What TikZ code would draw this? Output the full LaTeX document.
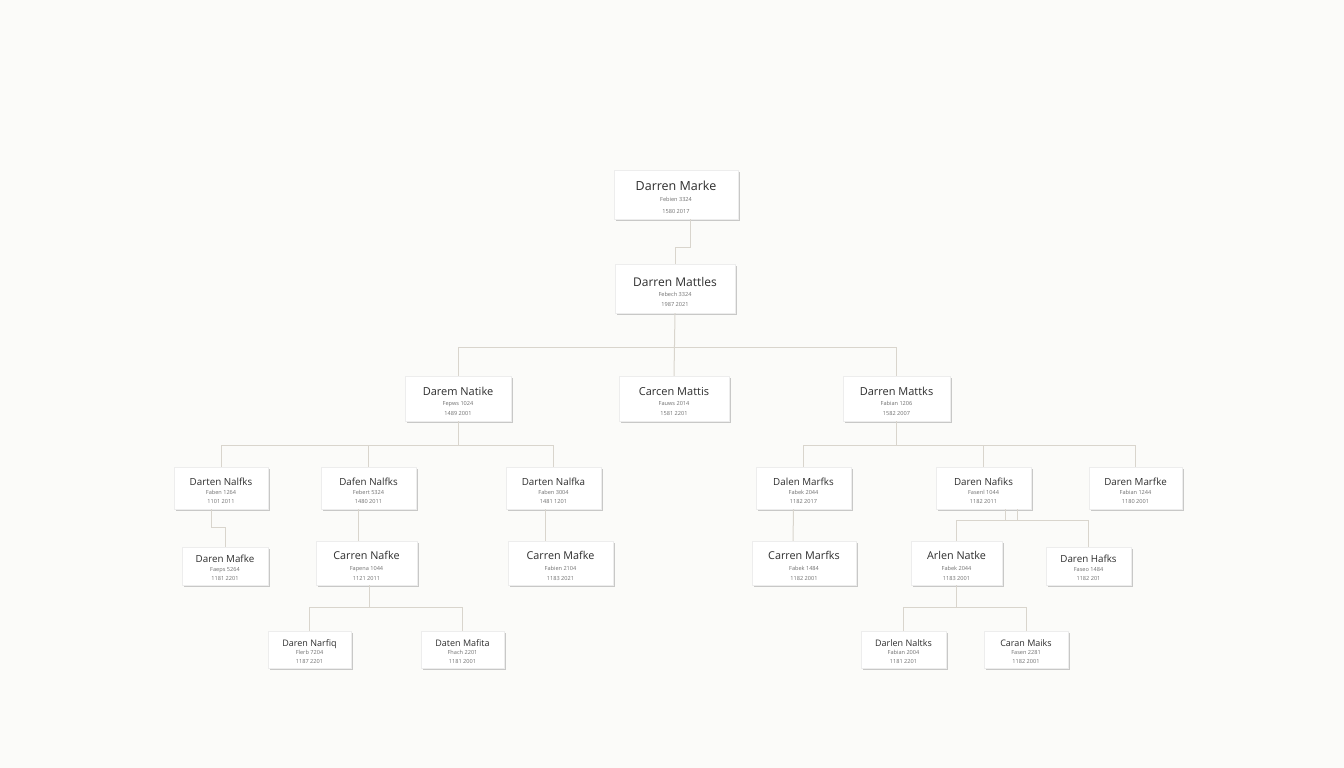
\documentclass[tikz,border=0pt]{standalone}
\usepackage{fontspec}
\setmainfont{Open Sans}
\usetikzlibrary{shadows}
\definecolor{bgc}{HTML}{FBFBF9}
\definecolor{linec}{HTML}{D9D5CD}
\definecolor{namec}{HTML}{2E2E2E}
\definecolor{subc}{HTML}{707070}
\newcommand\cardtxt[6]{{\fontsize{#1}{#1}\selectfont\color{namec}#4}\\[#2]{\fontsize{5.6}{5.6}\selectfont\color{subc}#5}\\[#3]{\fontsize{5.6}{5.6}\selectfont\color{subc}#6}}
\tikzset{
  card/.style={draw=black!7, fill=white, inner sep=0pt,
    drop shadow={shadow xshift=1.6pt, shadow yshift=-1.8pt, opacity=0.2, fill=black}},
  txt/.style={inner sep=0pt, align=center},
  conn/.style={draw=linec, line width=1pt}
}
\begin{document}
\begin{tikzpicture}[x=1pt,y=-1pt]
\useasboundingbox (0,0) rectangle (1344,768);
\fill[bgc] (0,0) rectangle (1344,768);

% level 1-2
\node[card, minimum width=124, minimum height=49] (root) at (676,194.5) {};
\node[txt] (root-t) at ([yshift=-3pt]root.center) {\cardtxt{12.5}{-1pt}{0pt}{Darren Marke}{Febien 3324}{1580 2017}};
\node[card, minimum width=120, minimum height=49] (n2) at (675,288.5) {};
\node[txt] (n2-t) at ([yshift=-3pt]n2.center) {\cardtxt{12}{-2pt}{-2pt}{Darren Mattles}{Febech 3324}{1987 2021}};

% level 3
\node[card, minimum width=106, minimum height=45] (l3a) at (458,398.5) {};
\node[txt] (l3a-t) at ([yshift=-3pt]l3a.center) {\cardtxt{11}{-2.5pt}{-2pt}{Darem Natike}{Fepws 1024}{1489 2001}};
\node[card, minimum width=110, minimum height=45] (l3b) at (674,398.5) {};
\node[txt] (l3b-t) at ([yshift=-3pt]l3b.center) {\cardtxt{11}{-2.5pt}{-2pt}{Carcen Mattis}{Fauws 2014}{1581 2201}};
\node[card, minimum width=107, minimum height=45] (l3c) at (896.5,398.5) {};
\node[txt] (l3c-t) at ([yshift=-3pt]l3c.center) {\cardtxt{11}{-2.5pt}{-2pt}{Darren Mattks}{Fabian 1206}{1582 2007}};

% level 4
\node[card, minimum width=94, minimum height=42] (l4a) at (221,488) {};
\node[txt] (l4a-t) at ([yshift=-3pt]l4a.center) {\cardtxt{9.8}{-3pt}{-3pt}{Darten Nalfks}{Faben 1264}{1101 2011}};
\node[card, minimum width=95, minimum height=42] (l4b) at (368.5,488) {};
\node[txt] (l4b-t) at ([yshift=-3pt]l4b.center) {\cardtxt{9.8}{-3pt}{-3pt}{Dafen Nalfks}{Febert 5324}{1480 2011}};
\node[card, minimum width=95, minimum height=42] (l4c) at (553.5,488) {};
\node[txt] (l4c-t) at ([yshift=-3pt]l4c.center) {\cardtxt{9.8}{-3pt}{-3pt}{Darten Nalfka}{Faben 3004}{1481 1201}};
\node[card, minimum width=95, minimum height=42] (l4d) at (803.5,488) {};
\node[txt] (l4d-t) at ([yshift=-3pt]l4d.center) {\cardtxt{9.8}{-3pt}{-3pt}{Dalen Marfks}{Fabek 2044}{1182 2017}};
\node[card, minimum width=95, minimum height=42] (l4e) at (983.5,488) {};
\node[txt] (l4e-t) at ([yshift=-3pt]l4e.center) {\cardtxt{9.8}{-3pt}{-3pt}{Daren Nafiks}{Fasenl 1044}{1182 2011}};
\node[card, minimum width=93, minimum height=42] (l4f) at (1135.5,488) {};
\node[txt] (l4f-t) at ([yshift=-3pt]l4f.center) {\cardtxt{9.8}{-3pt}{-3pt}{Daren Marfke}{Fabian 1244}{1180 2001}};

% level 5
\node[card, minimum width=86, minimum height=38] (l5a) at (225,566) {};
\node[txt] (l5a-t) at ([yshift=-2pt]l5a.center) {\cardtxt{9.8}{-3pt}{-3pt}{Daren Mafke}{Faeps 5264}{1181 2201}};
\node[card, minimum width=101, minimum height=44] (l5b) at (366.5,563) {};
\node[txt] (l5b-t) at ([yshift=-3pt]l5b.center) {\cardtxt{10.8}{-1.5pt}{-2pt}{Carren Nafke}{Fapena 1044}{1121 2011}};
\node[card, minimum width=105, minimum height=44] (l5c) at (560.5,563) {};
\node[txt] (l5c-t) at ([yshift=-3pt]l5c.center) {\cardtxt{10.8}{-1.5pt}{-2pt}{Carren Mafke}{Fabien 2104}{1183 2021}};
\node[card, minimum width=104, minimum height=44] (l5d) at (804,563) {};
\node[txt] (l5d-t) at ([yshift=-3pt]l5d.center) {\cardtxt{10.8}{-1.5pt}{-2pt}{Carren Marfks}{Fabek 1484}{1182 2001}};
\node[card, minimum width=91, minimum height=44] (l5e1) at (956.5,563) {};
\node[txt] (l5e1-t) at ([yshift=-3pt]l5e1.center) {\cardtxt{10.8}{-1.5pt}{-2pt}{Arlen Natke}{Fabek 2044}{1183 2001}};
\node[card, minimum width=85, minimum height=38] (l5e2) at (1088.5,566) {};
\node[txt] (l5e2-t) at ([yshift=-2pt]l5e2.center) {\cardtxt{9.8}{-3pt}{-3pt}{Daren Hafks}{Faseo 1484}{1182 201}};

% level 6
\node[card, minimum width=83, minimum height=37] (l6a) at (309.5,649.5) {};
\node[txt] (l6a-t) at ([yshift=-2pt]l6a.center) {\cardtxt{9}{-4pt}{-3pt}{Daren Narfiq}{Flerb 7204}{1187 2201}};
\node[card, minimum width=83, minimum height=37] (l6b) at (462.5,649.5) {};
\node[txt] (l6b-t) at ([yshift=-2pt]l6b.center) {\cardtxt{9}{-4pt}{-3pt}{Daten Mafita}{Fhach 2201}{1181 2001}};
\node[card, minimum width=85, minimum height=37] (l6c) at (903.5,649.5) {};
\node[txt] (l6c-t) at ([yshift=-2pt]l6c.center) {\cardtxt{9}{-4pt}{-3pt}{Darlen Naltks}{Fabian 2004}{1181 2201}};
\node[card, minimum width=84, minimum height=37] (l6d) at (1026,649.5) {};
\node[txt] (l6d-t) at ([yshift=-2pt]l6d.center) {\cardtxt{9}{-4pt}{-3pt}{Caran Maiks}{Fasen 2281}{1182 2001}};

% connectors
\draw[conn] ([xshift=14pt]root.south) -- ++(0,28) -| (n2.north);
\draw[conn] (n2.south) -- (l3b.north);
\draw[conn] (l3a.north) -- ++(0,-28) -| (l3c.north);

\draw[conn] (l3a.south) -- ++(0,25);
\draw[conn] (l4a.north) -- ++(0,-21) -| (l4c.north);
\draw[conn] (l4b.north) -- ++(0,-21);
\draw[conn] (l3c.south) -- ++(0,25);
\draw[conn] (l4d.north) -- ++(0,-21) -| (l4f.north);
\draw[conn] (l4e.north) -- ++(0,-21);

\draw[conn] ([xshift=-10pt]l4a.south) -- ++(0,18) -| (l5a.north);
\draw[conn] ([xshift=-10pt]l4b.south) -- ([xshift=-8pt]l5b.north);
\draw[conn] ([xshift=-8pt]l4c.south) -- ([xshift=-15pt]l5c.north);
\draw[conn] ([xshift=-10pt]l4d.south) -- ([xshift=-11pt]l5d.north);
\draw[conn] ([xshift=22pt]l4e.south) -- ++(0,12);
\draw[conn] ([xshift=34pt]l4e.south) -- ++(0,12);
\draw[conn] (l5e1.north) -- ++(0,-20) -| (l5e2.north);

\draw[conn] ([xshift=3pt]l5b.south) -- ++(0,23);
\draw[conn] (l6a.north) -- ++(0,-23) -| (l6b.north);
\draw[conn] (l5e1.south) -- ++(0,23);
\draw[conn] (l6c.north) -- ++(0,-23) -| (l6d.north);
\end{tikzpicture}
\end{document}
